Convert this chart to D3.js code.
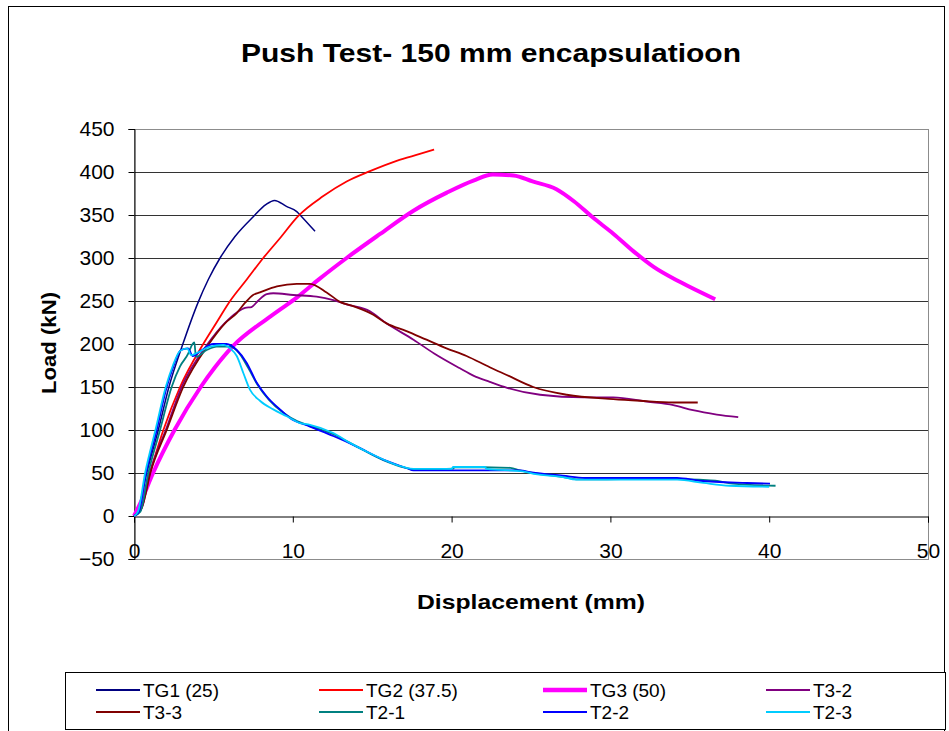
<!DOCTYPE html>
<html>
<head>
<meta charset="utf-8">
<script src="https://cdn.jsdelivr.net/npm/d3@7"></script>
<style>
  body { margin: 0; background: #fff; }
  text { font-family: "Liberation Sans", Arial, sans-serif; }
</style>
</head>
<body>
<svg width="949" height="731"></svg>
<script>
// displacement (mm), load (kN) pairs
const tg1 = [[0,0],[0.3,10],[0.8,50],[1.53,100],[2.2,150],[3.06,199],[4.05,249],[4.68,275],[5.42,300],[6.36,325],[7.51,348],[8.3,362],[8.85,367],[9.6,360],[10.25,354],[10.56,348],[11.4,331]];
const tg2 = [[0,0],[0.3,8],[1.0,50],[1.85,100],[2.9,150],[4.36,200],[5.2,225],[6.05,250],[7.1,275],[8.14,300],[9.19,323],[10.35,349],[11.92,372],[13.39,389],[14.86,401],[16.54,413],[18.0,421],[18.9,426]];
const tg3 = [[0,0],[0.4,15],[1.2,50],[2.55,100],[4.2,150],[5.1,173],[6.2,197],[8.36,229],[9.19,240],[10.25,254],[11.7,276],[13.39,300],[15.5,328],[17.6,355],[19.7,376],[21.37,390],[22.6,397],[23.9,396],[25.1,389],[26.6,380],[27.7,366],[28.9,347],[30.2,328],[31.44,308],[32.7,290],[34.4,272],[36.6,252]];
const t32 = [[0,0],[0.5,10],[1.0,50],[2.0,100],[3.0,150],[4.6,199],[5.7,224],[6.5,237],[7.0,242],[7.4,243],[7.8,250],[8.36,258],[8.77,259],[10.03,257],[11.5,255],[12.55,251],[13.39,246],[14.86,238],[15.9,224],[17.6,205],[18.9,189],[20.5,172],[21.4,163],[22.4,156],[23.5,149],[25.57,141],[28.3,138],[30.18,138],[32.3,133],[33.96,129],[35.2,123],[36.7,118],[38.05,115]];
const t33 = [[0,0],[0.5,10],[1.03,50],[2.06,100],[3.1,150],[4.68,199],[5.73,224],[6.47,236],[7.0,248],[7.5,257],[7.93,260],[9.0,267],[10.25,270],[11.08,270],[12.13,260],[12.97,249],[13.8,244],[15.07,234],[15.9,224],[17.16,215],[18.42,205],[19.68,195],[20.94,186],[22.4,173],[23.47,164],[25.14,150],[27.25,141],[30.18,136],[31.86,134],[33.96,132],[35.5,132]];
const t21 = [[0,0],[0.4,5],[0.9,50],[1.64,100],[2.37,150],[2.9,174],[3.42,189],[3.6,197],[3.8,202],[3.9,185],[4.58,193],[5.2,197],[6.05,197],[6.6,190],[7.2,172],[7.8,152],[8.5,135],[9.4,120],[10.3,110],[11.08,105],[12.55,95],[14.0,81],[15.7,65],[17.1,56],[17.6,54],[20.1,55],[20.2,57],[23.7,56],[24.3,53],[25.1,50],[27,45.5],[27.85,42.5],[33.5,43.5],[35.6,42.2],[36.6,41],[37.7,37.6],[40.4,35.2]];
const t22 = [[0,0],[0.3,5],[0.76,50],[1.43,100],[2.06,150],[2.48,174],[2.95,193],[3.4,195],[3.7,186],[4.2,192],[4.99,200],[5.83,200],[6.47,193],[7.1,178],[7.73,155],[8.36,139],[9.19,124],[9.82,114],[11.08,104],[12.55,93],[14.0,81],[15.7,65.5],[17.16,55.8],[17.6,53],[24.3,53],[25.04,50.7],[27,46.9],[28.4,44.2],[34.2,44.2],[35.6,41],[38.6,38.4],[40.05,37.6]];
const t23 = [[0,0],[0.25,5],[0.7,50],[1.35,100],[2.0,150],[2.45,175],[2.9,192],[3.35,195],[3.6,187],[3.95,189.5],[4.79,197],[5.62,199],[6.05,195],[6.47,186],[6.89,166],[7.3,147],[7.93,134],[8.77,124],[9.62,116],[10.45,108],[11.08,106],[12.55,96.5],[13.6,85],[14.86,73],[16.96,57],[17.6,54.7],[20.0,54.7],[20.1,57],[22.1,57],[22.2,54.7],[24.5,51.9],[25.1,49.2],[27,45.3],[27.85,42.2],[34.2,42.2],[35.86,38.4],[37.5,35.2],[40.0,34]];

const seriesNames = ['TG1 (25)', 'TG2 (37.5)', 'TG3 (50)', 'T3-2', 'T3-3', 'T2-1', 'T2-2', 'T2-3'];
const seriesData = [tg1, tg2, tg3, t32, t33, t21, t22, t23];
const seriesColors = ['#000080', '#ff0000', '#ff00ff', '#800080', '#800000', '#008080', '#0000ff', '#00ccff'];
const seriesWidths = [1.5, 1.8, 4, 1.8, 1.8, 1.8, 1.8, 1.8];

const xTicks = [0, 10, 20, 30, 40, 50];
const yTicks = [-50, 0, 50, 100, 150, 200, 250, 300, 350, 400, 450];

const svg = d3.select('svg');

// outer chart frame
svg.append('rect')
	.attr('x', 8.5).attr('y', 6.5)
	.attr('width', 936).attr('height', 740)
	.attr('fill', 'none').attr('stroke', '#000');

const x = d3.scaleLinear().domain([0, 50]).range([134, 928]);
const y = d3.scaleLinear().domain([-50, 450]).range([559, 129]);

// gridlines
svg.append('g')
	.selectAll('line')
	.data(yTicks.filter(d => d > -50 && d < 450 && d != 0))
	.enter()
	.append('line')
	.attr('x1', 134).attr('x2', 928)
	.attr('y1', d => Math.round(y(d)) + 0.5)
	.attr('y2', d => Math.round(y(d)) + 0.5)
	.attr('stroke', '#333');

// plot border (grey)
svg.append('rect')
	.attr('x', 134.5).attr('y', Math.round(y(450)) + 0.5)
	.attr('width', 794).attr('height', Math.round(y(-50)) - Math.round(y(450)))
	.attr('fill', 'none').attr('stroke', '#8c8c8c');

// y axis
const yAxis = d3.axisLeft(y).tickValues(yTicks).tickSize(6).tickPadding(14);
const gy = svg.append('g')
	.attr('transform', 'translate(134.5,0)')
	.call(yAxis);
gy.select('.domain').attr('stroke', '#000');
gy.selectAll('.tick line').attr('stroke', '#000');
gy.selectAll('text').attr('font-size', 21).attr('fill', '#000')
	.attr('font-family', '"Liberation Sans", Arial, sans-serif');

// x axis at load = 0
const xAxis = d3.axisBottom(x).tickValues(xTicks).tickSize(6).tickFormat(d3.format('d'));
const gx = svg.append('g')
	.attr('transform', `translate(0,${Math.round(y(0)) + 0.5})`)
	.call(xAxis);
gx.select('.domain').attr('stroke', '#000');
gx.selectAll('.tick line').attr('stroke', '#000');
gx.selectAll('text').attr('font-size', 21).attr('fill', '#000')
	.attr('y', 27)
	.attr('font-family', '"Liberation Sans", Arial, sans-serif');

// series
const line = d3.line()
	.curve(d3.curveMonotoneX)
	.x(d => x(d[0]))
	.y(d => y(d[1]));

svg.append('g')
	.selectAll('path')
	.data(seriesData)
	.enter()
	.append('path')
	.attr('d', line)
	.attr('fill', 'none')
	.attr('stroke', (d, i) => seriesColors[i])
	.attr('stroke-width', (d, i) => seriesWidths[i])
	.attr('stroke-linejoin', 'round');

// titles
svg.append('text')
	.attr('x', 491).attr('y', 62)
	.attr('text-anchor', 'middle')
	.attr('font-size', 26).attr('font-weight', 'bold')
	.attr('textLength', 500).attr('lengthAdjust', 'spacingAndGlyphs')
	.text('Push Test- 150 mm encapsulatioon');

svg.append('text')
	.attr('x', 531).attr('y', 609)
	.attr('text-anchor', 'middle')
	.attr('font-size', 21).attr('font-weight', 'bold')
	.attr('textLength', 228).attr('lengthAdjust', 'spacingAndGlyphs')
	.text('Displacement (mm)');

svg.append('text')
	.attr('transform', 'translate(56,343) rotate(-90)')
	.attr('text-anchor', 'middle')
	.attr('font-size', 21).attr('font-weight', 'bold')
	.attr('textLength', 102).attr('lengthAdjust', 'spacingAndGlyphs')
	.text('Load (kN)');

// legend
svg.append('rect')
	.attr('x', 65.5).attr('y', 672.5)
	.attr('width', 880).attr('height', 57)
	.attr('fill', '#fff').attr('stroke', '#000');

const legendCols = [96, 319, 543, 766];
const legendRows = [690, 712];
const lg = svg.append('g')
	.selectAll('g')
	.data(seriesNames)
	.enter()
	.append('g')
	.attr('transform', (d, i) => `translate(${legendCols[i % 4]},${legendRows[Math.floor(i / 4)]})`);
lg.append('line')
	.attr('x1', 0).attr('x2', 44)
	.attr('stroke', (d, i) => seriesColors[i])
	.attr('stroke-width', (d, i) => seriesWidths[i] + 0.4);
lg.append('text')
	.attr('x', 47).attr('dy', '0.35em')
	.attr('font-size', 19)
	.text(d => d);
</script>
</body>
</html>
